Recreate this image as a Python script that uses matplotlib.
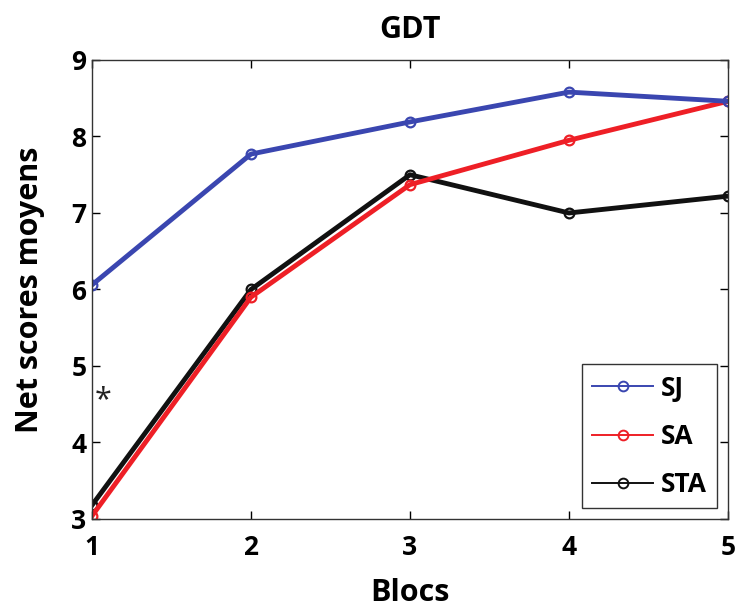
import matplotlib.pyplot as plt
from matplotlib.lines import Line2D

blocs = [1, 2, 3, 4, 5]
sj = [6.06, 7.77, 8.19, 8.58, 8.46]
sa = [3.04, 5.90, 7.37, 7.95, 8.46]
sta = [3.18, 6.00, 7.50, 7.00, 7.22]

series = [("SJ", sj, "#3a46b0"), ("SA", sa, "#ee1f26"), ("STA", sta, "#111111")]

plt.rcParams['font.family'] = ['Open Sans', 'DejaVu Sans']

fig = plt.figure(figsize=(7.36, 6.12), dpi=100)
ax = fig.add_axes([0.125, 0.152, 0.864, 0.750])

# black drawn first so red sits on top like the original
for name, vals, col in [series[2], series[1], series[0]]:
    ax.plot(blocs, vals, color=col, linewidth=3.5, marker='o', markersize=7,
            markerfacecolor='none', markeredgecolor=col, markeredgewidth=1.6)

ax.text(1.07, 4.55, "*", fontsize=22, ha='center', va='center', color='#222222')

ax.set_xlim(1, 5)
ax.set_ylim(3, 9)
ax.set_xticks(blocs)
ax.set_yticks(range(3, 10))
ax.tick_params(axis='both', direction='in', top=True, right=True, length=6,
               width=1, labelsize=19)
ax.tick_params(axis='x', pad=11)
ax.tick_params(axis='y', pad=4)
for lab in ax.get_xticklabels() + ax.get_yticklabels():
    lab.set_fontweight('bold')
for sp in ax.spines.values():
    sp.set_color('#333333')
    sp.set_linewidth(1)

ax.set_title("GDT", fontsize=22, fontweight='bold', pad=16)
ax.set_xlabel("Blocs", fontsize=22, fontweight='bold', labelpad=12)
ax.set_ylabel("Net scores moyens", fontsize=22, fontweight='bold', labelpad=19)

handles = [Line2D([], [], color=c, linewidth=1.4, marker='o', markersize=7,
                  markerfacecolor='none', markeredgecolor=c, markeredgewidth=1.4)
           for _, _, c in series]
leg = ax.legend(handles, [s[0] for s in series], loc='lower right',
                prop={'weight': 'bold', 'size': 19}, fancybox=False,
                edgecolor='#333333', framealpha=1, handlelength=2.3,
                handletextpad=0.3, borderaxespad=0.4, labelspacing=0.8,
                borderpad=0.4)
leg.get_frame().set_linewidth(1)

fig.savefig("out.png", dpi=100)
